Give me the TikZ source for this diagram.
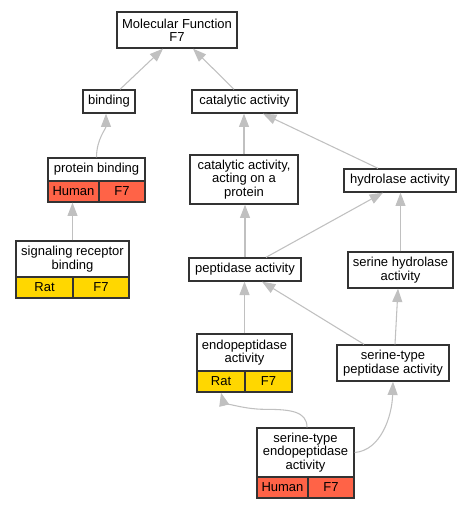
\documentclass[tikz,border=0pt]{standalone}
\usepackage{fontspec}
\setmainfont{Liberation Sans}
\usetikzlibrary{arrows.meta,calc}
\definecolor{edgegray}{HTML}{C0C0C0}
\definecolor{humanred}{HTML}{FF6347}
\definecolor{ratyellow}{HTML}{FFD700}
\tikzset{
  box/.style={draw=black!80, line width=1pt, fill=white, inner sep=0pt, align=center,
    font=\fontsize{9.75}{10}\selectfont},
  sz/.style 2 args={minimum width=#1*0.75pt, minimum height=#2*0.75pt},
  human/.style={box, fill=humanred},
  rat/.style={box, fill=ratyellow},
  link/.style={draw=edgegray, line width=0.8pt, -{Triangle[length=10pt,width=7.5pt,fill=edgegray]}}
}
\begin{document}
\begin{tikzpicture}[x=0.75pt,y=-0.75pt]
\useasboundingbox (0,0) rectangle (472,509);
% nodes
\node[box,sz={120}{36}] (mf) at (177,30) {Molecular Function\\F7};
\node[box,sz={52}{23}] (bind) at (109,101.5) {binding};
\node[box,sz={105}{23}] (cat) at (244.5,101.5) {catalytic activity};
\node[box,sz={97}{23}] (pb) at (96.5,169.5) {protein binding};
\node[human,sz={51}{21}] (pbh) at (73.5,191.5) {Human};
\node[human,sz={46}{21}] (pbf) at (122,191.5) {F7};
\node[box,sz={108}{49}] (cap) at (244,179.5) {catalytic activity,\\acting on a\\protein};
\node[box,sz={112}{23}] (hyd) at (400,180.5) {hydrolase activity};
\node[box,sz={113}{36}] (srb) at (72.5,259) {signaling receptor\\binding};
\node[rat,sz={57}{21}] (srbr) at (44.5,287.5) {Rat};
\node[rat,sz={56}{21}] (srbf) at (101,287.5) {F7};
\node[box,sz={112}{23}] (pep) at (245,269.5) {peptidase activity};
\node[box,sz={105}{36}] (sh) at (400.5,270) {serine hydrolase\\activity};
\node[box,sz={95}{37}] (endo) at (244.5,352.5) {endopeptidase\\activity};
\node[rat,sz={48}{21}] (endor) at (221,381.5) {Rat};
\node[rat,sz={47}{21}] (endof) at (268.5,381.5) {F7};
\node[box,sz={112}{36}] (stp) at (393,363) {serine-type\\peptidase activity};
\node[box,sz={97}{49}] (step) at (305.5,452.5) {serine-type\\endopeptidase\\activity};
\node[human,sz={51}{21}] (steph) at (282.5,487.5) {Human};
\node[human,sz={46}{21}] (stepf) at (331,487.5) {F7};
% edges
\draw[link] ($(bind.north)+(11,0)$) -- ($(mf.south)+(-14,0)$);
\draw[link] ($(cat.north)+(-10.5,0)$) -- ($(mf.south)+(16,0)$);
\draw[link] (pb.north) .. controls ($(pb.north)+(0,-18)$) and ($(bind.south)+(-3,15)$) .. ($(bind.south)+(-3,0)$);
\draw[link] (srb.north) -- (srb.north |- pbh.south);
\draw[link] (cap.north) -- (cap.north |- cat.south);
\draw[link] ($(hyd.north)+(-22,0)$) -- ($(cat.south)+(18.5,0)$);
\draw[link] (pep.north) -- (pep.north |- cap.south);
\draw[link] ($(pep.north)+(21,0)$) -- ($(hyd.south)+(-17,0)$);
\draw[link] (sh.north) -- (sh.north |- hyd.south);
\draw[link] (endo.north) -- (endo.north |- pep.south);
\draw[link] ($(stp.north)+(-29,0)$) -- ($(pep.south)+(17,0)$);
\draw[link] ($(stp.north)+(2,0)$) -- ($(sh.south)+(-2.5,0)$);
\draw[link] ($(step.north)+(1.5,0)$) .. controls ($(step.north)+(1.5,-16)$) and ($(step.north)+(-15,-18)$) .. ($(step.north)+(-40,-18)$)
  .. controls ($(step.north)+(-65,-18)$) and ($(endor.south)+(2,8)$) .. (endor.south);
\draw[link] (step.east) .. controls ($(step.east)+(26,-2)$) and ($(stp.south)+(-1,35)$) .. (stp.south);
\end{tikzpicture}
\end{document}
